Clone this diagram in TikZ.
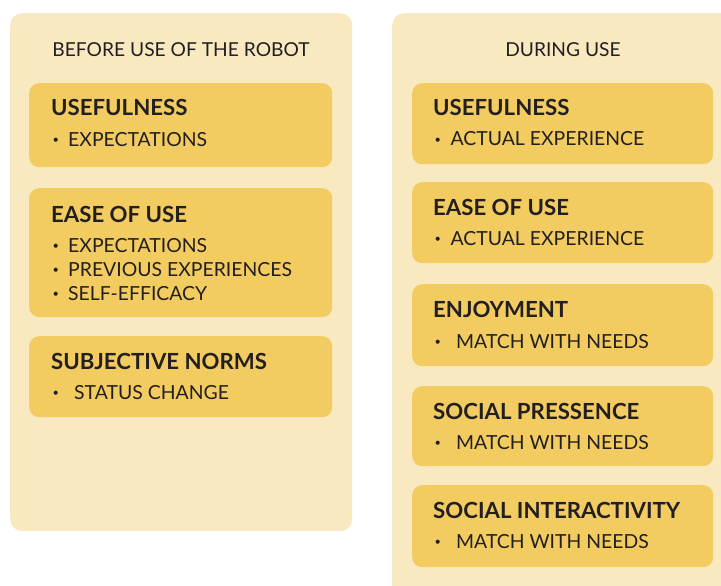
\documentclass[tikz,border=0pt]{standalone}
\usepackage{fontspec}
\setmainfont{Lato}
\usetikzlibrary{calc}
\definecolor{panelc}{HTML}{F9E9C0}
\definecolor{boxc}{HTML}{F2CC60}
\definecolor{inkc}{HTML}{231F20}
\newcommand\bul[1]{\makebox[#1][l]{\hspace{1.5pt}\raisebox{2.6pt}{\fontsize{11}{11}\selectfont •}}}
\begin{document}
\begin{tikzpicture}[x=1pt,y=-1pt,
  panel/.style={fill=panelc, rounded corners=12pt, draw=none, inner sep=0pt, anchor=north west},
  card/.style={fill=boxc, rounded corners=10pt, draw=none, inner sep=0pt, anchor=north west},
  head/.style={anchor=base west, inner sep=0pt, font=\fontsize{22.2}{24}\selectfont\bfseries, text=inkc},
  body/.style={anchor=base west, inner sep=0pt, font=\fontsize{19.4}{24}\selectfont, text=inkc},
  ttl/.style={anchor=base, inner sep=0pt, font=\fontsize{19.2}{24}\selectfont, text=inkc}]
\useasboundingbox (0,0) rectangle (721,586);
\clip (0,0) rectangle (721,586);
% panels
\node[panel, minimum width=342pt, minimum height=518pt] (lpanel) at (10,13) {};
\node[panel, minimum width=345pt, minimum height=600pt] (rpanel) at (392,13) {};
\node[ttl] (ltitle) at (181,57) {BEFORE USE OF THE ROBOT};
\node[ttl] (rtitle) at (563,57) {DURING USE};
% left cards
\node[card, minimum width=303pt, minimum height=84pt] (lc1) at (29,83) {};
\node[card, minimum width=303pt, minimum height=129pt] (lc2) at (29,188) {};
\node[card, minimum width=303pt, minimum height=81pt] (lc3) at (29,336) {};
% right cards
\node[card, minimum width=301pt, minimum height=81pt] (rc1) at (412,83) {};
\node[card, minimum width=301pt, minimum height=81pt] (rc2) at (412,182) {};
\node[card, minimum width=301pt, minimum height=82pt] (rc3) at (412,284) {};
\node[card, minimum width=301pt, minimum height=80pt] (rc4) at (412,386) {};
\node[card, minimum width=301pt, minimum height=82pt] (rc5) at (412,485) {};
% left texts
\node[head] (lh1) at ($(lc1.north west)+(22,33)$) {USEFULNESS};
\node[body] (lb1a) at ($(lc1.north west)+(22,63.5)$) {\bul{17pt}EXPECTATIONS};
\node[head] (lh2) at ($(lc2.north west)+(22,34)$) {EASE OF USE};
\node[body] (lb2a) at ($(lc2.north west)+(22,64.5)$) {\bul{17pt}EXPECTATIONS};
\node[body] (lb2b) at ($(lc2.north west)+(22,88.5)$) {\bul{17pt}PREVIOUS EXPERIENCES};
\node[body] (lb2c) at ($(lc2.north west)+(22,112.5)$) {\bul{17pt}SELF-EFFICACY};
\node[head] (lh3) at ($(lc3.north west)+(22,33)$) {SUBJECTIVE NORMS};
\node[body] (lb3a) at ($(lc3.north west)+(22,63.5)$) {\bul{23pt}STATUS CHANGE};
% right texts
\node[head] (rh1) at ($(rc1.north west)+(21,33)$) {USEFULNESS};
\node[body] (rb1a) at ($(rc1.north west)+(21,63)$) {\bul{17.5pt}ACTUAL EXPERIENCE};
\node[head] (rh2) at ($(rc2.north west)+(21,33)$) {EASE OF USE};
\node[body] (rb2a) at ($(rc2.north west)+(21,63)$) {\bul{17.5pt}ACTUAL EXPERIENCE};
\node[head] (rh3) at ($(rc3.north west)+(21,33)$) {ENJOYMENT};
\node[body] (rb3a) at ($(rc3.north west)+(21,64)$) {\bul{23pt}MATCH WITH NEEDS};
\node[head] (rh4) at ($(rc4.north west)+(21,33)$) {SOCIAL PRESSENCE};
\node[body] (rb4a) at ($(rc4.north west)+(21,63.5)$) {\bul{23pt}MATCH WITH NEEDS};
\node[head] (rh5) at ($(rc5.north west)+(21,33)$) {SOCIAL INTERACTIVITY};
\node[body] (rb5a) at ($(rc5.north west)+(21,63.5)$) {\bul{23pt}MATCH WITH NEEDS};
\end{tikzpicture}
\end{document}
